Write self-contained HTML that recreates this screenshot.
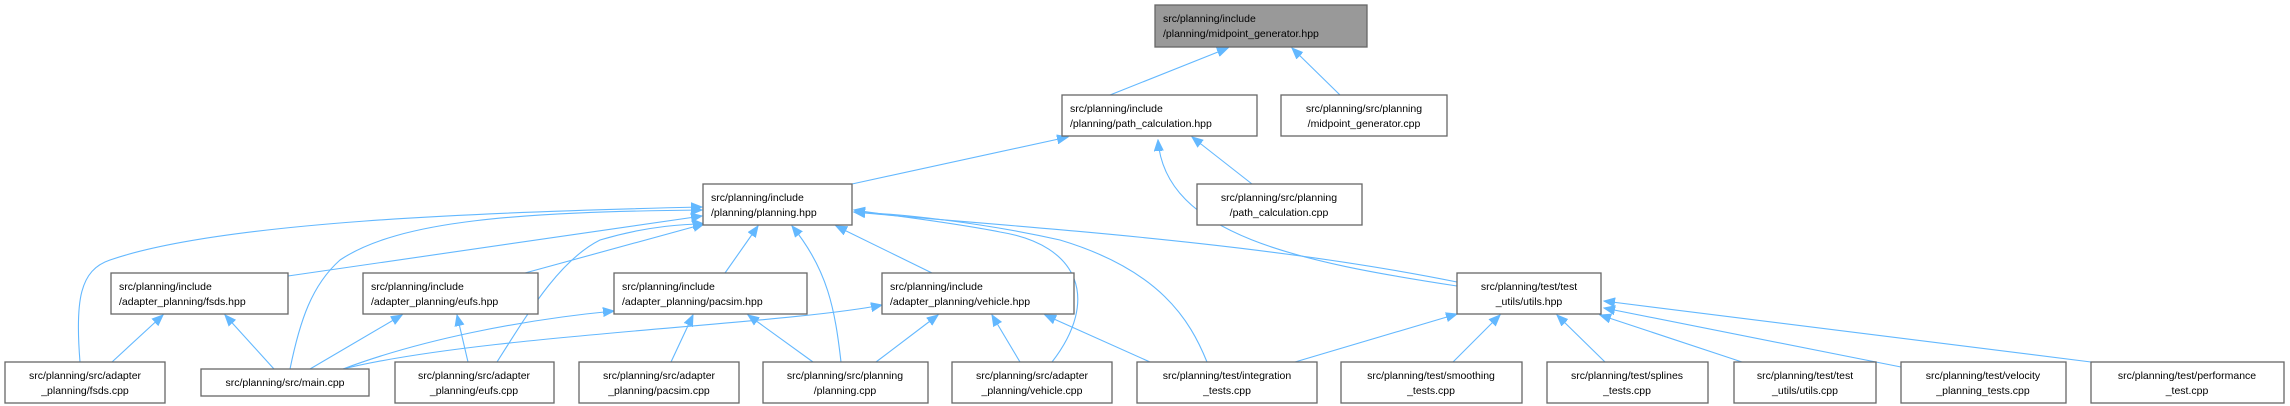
<!DOCTYPE html>
<html><head><meta charset="utf-8"><style>
html,body{margin:0;padding:0;background:#fff;}
svg{display:block;}
text{font-family:"Liberation Sans",Arial,sans-serif;font-size:10.5px;fill:#000;}
.b{fill:#fff;stroke:#666;stroke-width:1.3;}
.e{fill:none;stroke:#63b8ff;stroke-width:1.1;marker-end:url(#a);}
</style></head><body>
<svg width="2290" height="406" viewBox="0 0 2290 406" xmlns="http://www.w3.org/2000/svg">
<defs><marker id="a" markerUnits="userSpaceOnUse" markerWidth="12" markerHeight="10" refX="11" refY="5" orient="auto"><path d="M0,0.5 L11,5 L0,9.5 z" fill="#63b8ff" stroke="#63b8ff"/></marker></defs>

<!-- edges -->
<path class="e" d="M1110,95 L1228,48"/>
<path class="e" d="M1340,95 L1292,48"/>
<path class="e" d="M852,184 L1068,137"/>
<path class="e" d="M1252,184 L1192,137"/>
<path class="e" d="M1457,286 C1300,262 1165,235 1158,140"/>
<path class="e" d="M1457,282 C1250,240 1000,226 854,212"/>
<path class="e" d="M288,276 L702,216"/>
<path class="e" d="M525,273 L704,224"/>
<path class="e" d="M725,273 L758,226"/>
<path class="e" d="M932,273 L836,226"/>
<path class="e" d="M80,362 C75,300 80,270 110,260 C220,222 480,212 702,207"/>
<path class="e" d="M290,369 C300,320 312,285 340,260 C400,220 520,212 702,210"/>
<path class="e" d="M497,362 C530,310 560,260 600,240 C650,225 690,224 704,224"/>
<path class="e" d="M841,362 C835,310 828,270 792,226"/>
<path class="e" d="M1052,362 C1100,300 1080,245 1000,232 C950,222 880,214 854,210"/>
<path class="e" d="M1207,362 C1190,320 1160,270 1060,240 C980,222 900,214 854,212"/>
<path class="e" d="M112,362 L163,315"/>
<path class="e" d="M274,369 L225,315"/>
<path class="e" d="M310,369 L402,315"/>
<path class="e" d="M468,362 L457,315"/>
<path class="e" d="M343,369 C420,340 520,320 614,311"/>
<path class="e" d="M671,362 L693,315"/>
<path class="e" d="M813,362 L748,315"/>
<path class="e" d="M343,369 C480,335 780,325 882,305"/>
<path class="e" d="M876,362 L938,315"/>
<path class="e" d="M1020,362 L992,315"/>
<path class="e" d="M1150,362 L1045,315"/>
<path class="e" d="M1295,362 L1457,314"/>
<path class="e" d="M1453,362 L1500,315"/>
<path class="e" d="M1605,362 L1557,315"/>
<path class="e" d="M1742,362 L1600,315"/>
<path class="e" d="M1901,367 L1604,308"/>
<path class="e" d="M2091,362 L1604,301"/>

<!-- nodes -->
<rect x="1155" y="5" width="212" height="42" fill="#999" stroke="#666" stroke-width="1.3"/>
<text x="1163" y="22">src/planning/include</text><text x="1163" y="37">/planning/midpoint_generator.hpp</text>

<rect class="b" x="1062" y="95" width="195" height="41"/>
<text x="1070" y="112">src/planning/include</text><text x="1070" y="127">/planning/path_calculation.hpp</text>

<rect class="b" x="1281" y="95" width="166" height="41"/>
<text x="1364" y="112" text-anchor="middle">src/planning/src/planning</text><text x="1364" y="127" text-anchor="middle">/midpoint_generator.cpp</text>

<rect class="b" x="703" y="184" width="149" height="41"/>
<text x="711" y="201">src/planning/include</text><text x="711" y="216">/planning/planning.hpp</text>

<rect class="b" x="1197" y="184" width="165" height="41"/>
<text x="1279" y="201" text-anchor="middle">src/planning/src/planning</text><text x="1279" y="216" text-anchor="middle">/path_calculation.cpp</text>

<rect class="b" x="111" y="273" width="177" height="41"/>
<text x="119" y="290">src/planning/include</text><text x="119" y="305">/adapter_planning/fsds.hpp</text>

<rect class="b" x="363" y="273" width="175" height="41"/>
<text x="371" y="290">src/planning/include</text><text x="371" y="305">/adapter_planning/eufs.hpp</text>

<rect class="b" x="614" y="273" width="193" height="41"/>
<text x="622" y="290">src/planning/include</text><text x="622" y="305">/adapter_planning/pacsim.hpp</text>

<rect class="b" x="882" y="273" width="192" height="41"/>
<text x="890" y="290">src/planning/include</text><text x="890" y="305">/adapter_planning/vehicle.hpp</text>

<rect class="b" x="1457" y="273" width="144" height="41"/>
<text x="1529" y="290" text-anchor="middle">src/planning/test/test</text><text x="1529" y="305" text-anchor="middle">_utils/utils.hpp</text>

<rect class="b" x="5" y="362" width="160" height="41"/>
<text x="85" y="379" text-anchor="middle">src/planning/src/adapter</text><text x="85" y="394" text-anchor="middle">_planning/fsds.cpp</text>

<rect class="b" x="201" y="369" width="168" height="27"/>
<text x="285" y="386" text-anchor="middle">src/planning/src/main.cpp</text>

<rect class="b" x="395" y="362" width="159" height="41"/>
<text x="474" y="379" text-anchor="middle">src/planning/src/adapter</text><text x="474" y="394" text-anchor="middle">_planning/eufs.cpp</text>

<rect class="b" x="579" y="362" width="160" height="41"/>
<text x="659" y="379" text-anchor="middle">src/planning/src/adapter</text><text x="659" y="394" text-anchor="middle">_planning/pacsim.cpp</text>

<rect class="b" x="763" y="362" width="165" height="41"/>
<text x="845" y="379" text-anchor="middle">src/planning/src/planning</text><text x="845" y="394" text-anchor="middle">/planning.cpp</text>

<rect class="b" x="952" y="362" width="160" height="41"/>
<text x="1032" y="379" text-anchor="middle">src/planning/src/adapter</text><text x="1032" y="394" text-anchor="middle">_planning/vehicle.cpp</text>

<rect class="b" x="1137" y="362" width="180" height="41"/>
<text x="1227" y="379" text-anchor="middle">src/planning/test/integration</text><text x="1227" y="394" text-anchor="middle">_tests.cpp</text>

<rect class="b" x="1341" y="362" width="181" height="41"/>
<text x="1431" y="379" text-anchor="middle">src/planning/test/smoothing</text><text x="1431" y="394" text-anchor="middle">_tests.cpp</text>

<rect class="b" x="1547" y="362" width="161" height="41"/>
<text x="1627" y="379" text-anchor="middle">src/planning/test/splines</text><text x="1627" y="394" text-anchor="middle">_tests.cpp</text>

<rect class="b" x="1734" y="362" width="142" height="41"/>
<text x="1805" y="379" text-anchor="middle">src/planning/test/test</text><text x="1805" y="394" text-anchor="middle">_utils/utils.cpp</text>

<rect class="b" x="1901" y="362" width="165" height="41"/>
<text x="1983" y="379" text-anchor="middle">src/planning/test/velocity</text><text x="1983" y="394" text-anchor="middle">_planning_tests.cpp</text>

<rect class="b" x="2091" y="362" width="193" height="41"/>
<text x="2187" y="379" text-anchor="middle">src/planning/test/performance</text><text x="2187" y="394" text-anchor="middle">_test.cpp</text>
</svg>
</body></html>
